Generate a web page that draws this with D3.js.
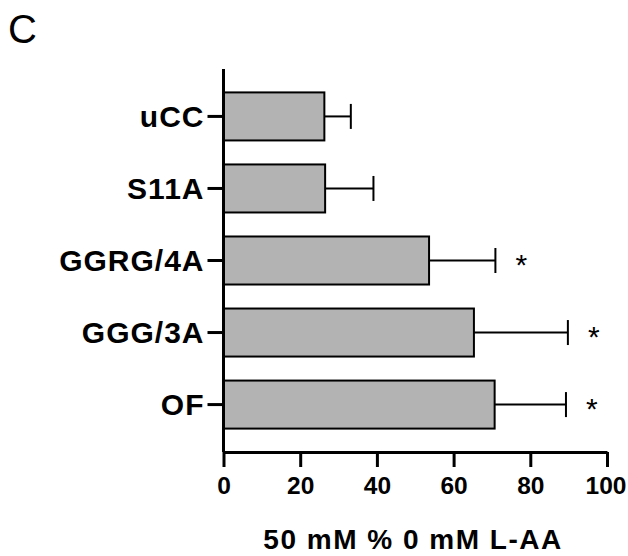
<!DOCTYPE html>
<html>
<head>
<meta charset="utf-8">
<script src="https://cdn.jsdelivr.net/npm/d3@7"></script>
<style>
  body { margin: 0; background: #fff; }
  svg { display: block; }
  text { font-family: "Liberation Sans", Arial, sans-serif; }
</style>
</head>
<body>
<svg id="chart"></svg>
<script>
// data
const groups = ['uCC', 'S11A', 'GGRG/4A', 'GGG/3A', 'OF'];
const means = [26.3, 26.5, 53.6, 65.3, 70.7];
const errors = [6.9, 12.6, 17.3, 24.5, 18.6];
const significant = [false, false, true, true, true];
const xTicks = [0, 20, 40, 60, 80, 100];

const width = 628, height = 556;
const svg = d3.select('#chart').attr('width', width).attr('height', height);

const rows = groups.map((g, i) => ({ name: g, mean: means[i], err: errors[i], sig: significant[i] }));

const x = d3.scaleLinear().domain([0, 100]).range([223.5, 607]);
const y = d3.scaleBand().domain(groups).range([69, 452]).paddingInner(1 / 3).paddingOuter(0.325);

// panel letter
svg.append('text')
  .attr('x', 8).attr('y', 43)
  .attr('font-family', '"Open Sans", sans-serif')
  .attr('font-size', 40)
  .text('C');

// bars
svg.append('g').selectAll('rect')
  .data(rows)
  .enter()
  .append('rect')
  .attr('x', x(0))
  .attr('y', d => y(d.name))
  .attr('width', d => x(d.mean) - x(0))
  .attr('height', y.bandwidth())
  .attr('fill', '#b3b3b3')
  .attr('stroke', '#000')
  .attr('stroke-width', 2);

// error bars (positive side only)
const eb = svg.append('g').attr('stroke', '#000').attr('stroke-width', 2);
rows.forEach(d => {
  const cy = y(d.name) + y.bandwidth() / 2;
  eb.append('line')
    .attr('x1', x(d.mean)).attr('x2', x(d.mean + d.err))
    .attr('y1', cy).attr('y2', cy);
  eb.append('line')
    .attr('x1', x(d.mean + d.err)).attr('x2', x(d.mean + d.err))
    .attr('y1', cy - 12.5).attr('y2', cy + 12.5);
});

// asterisks
svg.append('g').selectAll('text')
  .data(rows.filter(d => d.sig))
  .enter()
  .append('text')
  .attr('x', d => x(d.mean + d.err) + 26)
  .attr('y', d => y(d.name) + y.bandwidth() / 2 + 14)
  .attr('text-anchor', 'middle')
  .attr('font-size', 30)
  .text('*');

// x axis
const xAxis = svg.append('g')
  .attr('transform', `translate(0, 452)`)
  .call(d3.axisBottom(x).tickValues(xTicks).tickSize(15).tickPadding(10).tickSizeOuter(0));
xAxis.select('.domain').attr('stroke-width', 3);
xAxis.selectAll('.tick line').attr('stroke-width', 3);
xAxis.selectAll('.tick text')
  .attr('font-family', '"Liberation Sans", Arial, sans-serif')
  .attr('font-size', 24.5)
  .attr('font-weight', 'bold')
  .attr('fill', '#000');
// keep the last label inside the frame
xAxis.selectAll('.tick text').filter(d => d === 100).attr('dx', -1.5);

// y axis
const yAxis = svg.append('g')
  .attr('transform', `translate(${x(0)}, 0)`)
  .call(d3.axisLeft(y).tickSize(16).tickPadding(3).tickSizeOuter(0));
yAxis.select('.domain').attr('stroke-width', 3).attr('d', `M0,69V452`);
yAxis.selectAll('.tick line').attr('stroke-width', 3);
yAxis.selectAll('.tick text')
  .attr('font-family', '"Liberation Sans", Arial, sans-serif')
  .attr('font-size', 30)
  .attr('font-weight', 'bold')
  .attr('letter-spacing', 1)
  .attr('dy', '0.36em')
  .attr('fill', '#000');

// axis title
svg.append('text')
  .attr('x', 413).attr('y', 549)
  .attr('text-anchor', 'middle')
  .attr('font-size', 28)
  .attr('font-weight', 'bold')
  .attr('letter-spacing', 1.5)
  .text('50 mM % 0 mM L-AA');
</script>
</body>
</html>
